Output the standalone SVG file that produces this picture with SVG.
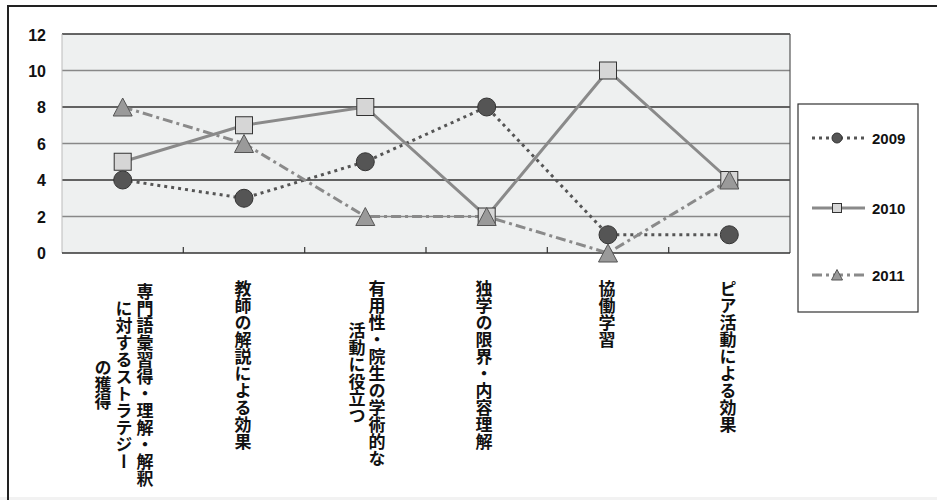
<svg xmlns="http://www.w3.org/2000/svg" width="937" height="500" viewBox="0 0 937 500">
<style>
.ylab{font-family:"Liberation Sans",Arial,sans-serif;font-weight:bold;font-size:16px;fill:#111;text-anchor:end}
.leg{font-family:"Liberation Sans",Arial,sans-serif;font-weight:bold;font-size:15px;fill:#111}
.cat{font-family:"Noto Sans CJK JP","Noto Sans CJK SC",sans-serif;font-weight:bold;font-size:17px;fill:#111;writing-mode:vertical-rl}
.grid{stroke-width:1.5}
.s09{fill:none;stroke:#555;stroke-width:3;stroke-dasharray:3,4}
.s10{fill:none;stroke:#8a8a8a;stroke-width:3}
.s11{fill:none;stroke:#8a8a8a;stroke-width:3;stroke-dasharray:10,4,3,4}
.c09{fill:#555;stroke:#333;stroke-width:1}
.q10{fill:#d6d6d6;stroke:#333;stroke-width:1}
.t11{fill:#9a9a9a;stroke:#555;stroke-width:1}
</style>
<rect x="0" y="0" width="937" height="500" fill="#fff"/>
<rect x="0" y="497" width="937" height="3" fill="#f2f2f2"/>
<line x1="7" y1="6" x2="937" y2="6" stroke="#222" stroke-width="2"/>
<line x1="8" y1="5" x2="8" y2="500" stroke="#222" stroke-width="2"/>

<g id="plot">
<rect x="62" y="34" width="728" height="219" fill="#eef0f0"/>
<line class="grid" x1="62" y1="70.5" x2="790" y2="70.5" stroke="#888"/>
<line class="grid" x1="62" y1="107" x2="790" y2="107" stroke="#333"/>
<line class="grid" x1="62" y1="143.5" x2="790" y2="143.5" stroke="#888"/>
<line class="grid" x1="62" y1="180" x2="790" y2="180" stroke="#333"/>
<line class="grid" x1="62" y1="216.5" x2="790" y2="216.5" stroke="#888"/>
<line x1="62" y1="34" x2="790" y2="34" stroke="#333" stroke-width="1.5"/>
<line x1="790" y1="34" x2="790" y2="253" stroke="#555" stroke-width="1.2"/>
<line x1="62" y1="34" x2="62" y2="253" stroke="#bbb" stroke-width="1"/>
<line x1="62" y1="253" x2="790" y2="253" stroke="#333" stroke-width="1.5"/>
<g stroke="#333" stroke-width="1.2">
<line x1="183.3" y1="247" x2="183.3" y2="253"/>
<line x1="304.7" y1="247" x2="304.7" y2="253"/>
<line x1="426" y1="247" x2="426" y2="253"/>
<line x1="547.3" y1="247" x2="547.3" y2="253"/>
<line x1="668.7" y1="247" x2="668.7" y2="253"/>
</g>
</g>

<g id="y-axis">
<text class="ylab" x="46" y="41">12</text>
<text class="ylab" x="46" y="77">10</text>
<text class="ylab" x="46" y="113">8</text>
<text class="ylab" x="46" y="150">6</text>
<text class="ylab" x="46" y="186">4</text>
<text class="ylab" x="46" y="223">2</text>
<text class="ylab" x="46" y="259">0</text>
</g>

<g id="connectors">
<polyline class="s09" points="122.7,180 244,198.25 365.3,161.75 486.7,107 608,234.75 729.3,234.75"/>
<polyline class="s10" points="122.7,161.75 244,125.25 365.3,107 486.7,216.5 608,70.5 729.3,180"/>
<polyline class="s11" points="122.7,107 244,143.5 365.3,216.5 486.7,216.5 608,253 729.3,180"/>
</g>

<g id="series-2009">
<circle class="c09" cx="122.7" cy="180" r="9"/>
<circle class="c09" cx="244" cy="198.25" r="9"/>
<circle class="c09" cx="365.3" cy="161.75" r="9"/>
<circle class="c09" cx="486.7" cy="107" r="9"/>
<circle class="c09" cx="608" cy="234.75" r="9"/>
<circle class="c09" cx="729.3" cy="234.75" r="9"/>
</g>
<g id="series-2010">
<rect class="q10" x="114.2" y="153.25" width="17" height="17"/>
<rect class="q10" x="235.5" y="116.75" width="17" height="17"/>
<rect class="q10" x="356.8" y="98.5" width="17" height="17"/>
<rect class="q10" x="478.2" y="208" width="17" height="17"/>
<rect class="q10" x="599.5" y="62" width="17" height="17"/>
<rect class="q10" x="720.8" y="171.5" width="17" height="17"/>
</g>
<g id="series-2011">
<polygon class="t11" points="122.7,98 132.2,116 113.2,116"/>
<polygon class="t11" points="244,134.5 253.5,152.5 234.5,152.5"/>
<polygon class="t11" points="365.3,207.5 374.8,225.5 355.8,225.5"/>
<polygon class="t11" points="486.7,207.5 496.2,225.5 477.2,225.5"/>
<polygon class="t11" points="608,244 617.5,262 598.5,262"/>
<polygon class="t11" points="729.3,171 738.8,189 719.8,189"/>
</g>

<g id="legend">
<rect x="798" y="104" width="120" height="208" fill="#fff" stroke="#333" stroke-width="1.2"/>
<line class="s09" x1="812" y1="138" x2="865" y2="138" stroke-width="2"/>
<circle class="c09" cx="837" cy="138" r="5"/>
<text class="leg" x="872" y="144">2009</text>
<line class="s10" x1="812" y1="208" x2="865" y2="208" stroke-width="2.5"/>
<rect class="q10" x="832.5" y="203.5" width="9" height="9"/>
<text class="leg" x="872" y="214">2010</text>
<line class="s11" x1="812" y1="275" x2="865" y2="275" stroke-width="2"/>
<polygon class="t11" points="837,269.5 842.5,280 831.5,280"/>
<text class="leg" x="872" y="281">2011</text>
</g>

<g id="categories">
<text class="cat" x="145" y="385" text-anchor="middle">専門語彙習得・理解・解釈</text>
<text class="cat" x="124" y="385" text-anchor="middle">に対するストラテジー</text>
<text class="cat" x="103" y="385" text-anchor="middle">の獲得</text>
<text class="cat" x="243" y="280">教師の解説による効果</text>
<text class="cat" x="377" y="280">有用性・院生の学術的な</text>
<text class="cat" x="357" y="373" text-anchor="middle">活動に役立つ</text>
<text class="cat" x="484" y="280">独学の限界・内容理解</text>
<text class="cat" x="607" y="280">協働学習</text>
<text class="cat" x="728" y="280">ピア活動による効果</text>
</g>
</svg>
